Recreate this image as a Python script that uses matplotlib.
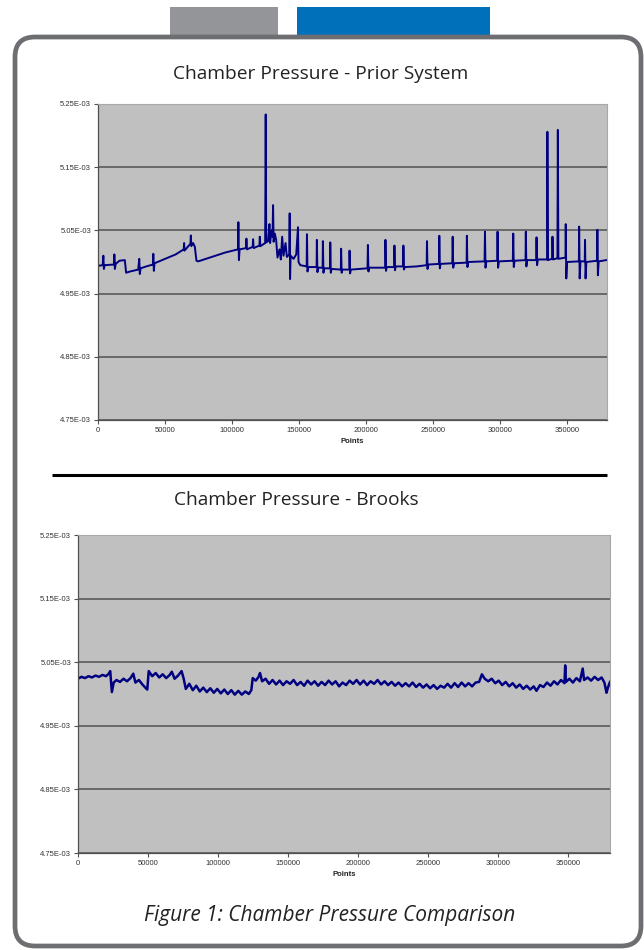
import matplotlib
matplotlib.use('Agg')
import matplotlib.pyplot as plt
import numpy as np
from matplotlib.patches import Rectangle, FancyBboxPatch
from matplotlib.ticker import FuncFormatter

# 数据 (压力单位: 1E-03)
prior_x = [0, 3500, 4000, 4400, 5000, 12000, 12200, 12600, 13200, 16000, 20000, 21000, 24000,
           30000, 30800, 31200, 31800, 36000, 41000, 41300, 41700, 42200, 50000, 58000, 64000,
           64300, 64600, 69000, 69300, 69700, 71000, 72300, 73500, 74800, 85000, 95000, 104500,
           104800, 105200, 105700, 110500, 110800, 111200, 115500, 115800, 116200, 120500, 120800,
           121200, 124800, 125200, 125600, 127000, 128000, 128500, 129500, 130300, 130700, 131100,
           132000, 133000, 134000, 135500, 136500, 137500, 138500, 140000, 141000, 142800, 143100,
           143400, 143800, 146000, 148000, 149300, 149700, 151000, 155800, 156000, 156400, 157000,
           163200, 163400, 163800, 164400, 167700, 167900, 168300, 168900, 173200, 173400, 173800,
           174400, 181300, 181500, 181900, 182500, 187600, 187800, 188200, 188800, 201200, 201500,
           201900, 202500, 214400, 214600, 215000, 215600, 221100, 221300, 221700, 222300, 227800,
           228000, 228400, 229000, 238000, 245400, 245600, 246000, 246600, 254600, 254800, 255200,
           255800, 264500, 264800, 265200, 265800, 275200, 275400, 275800, 276400, 288600, 288900,
           289300, 289900, 298000, 298300, 298700, 299300, 309700, 310000, 310400, 311000, 319200,
           319400, 319800, 320400, 327100, 327400, 327800, 328400, 335300, 335500, 335900, 339000,
           339300, 339700, 343000, 343300, 343700, 349000, 349200, 349600, 350200, 359000, 359200,
           359600, 360200, 363400, 363600, 364000, 364600, 372600, 372800, 373200, 373800, 379500]
prior_p = [4.994, 4.995, 5.010, 4.989, 4.995, 4.996, 5.012, 4.989, 4.997, 5.002, 5.003, 4.983, 4.985,
           4.988, 5.005, 4.981, 4.990, 4.993, 4.996, 5.013, 4.986, 4.998, 5.005, 5.012, 5.020,
           5.030, 5.018, 5.029, 5.042, 5.025, 5.030, 5.024, 5.002, 5.001, 5.008, 5.015, 5.020,
           5.063, 5.003, 5.020, 5.022, 5.037, 5.020, 5.024, 5.036, 5.022, 5.026, 5.040,
           5.025, 5.030, 5.2335, 5.031, 5.033, 5.060, 5.030, 5.050, 5.040, 5.090, 5.032,
           5.045, 5.035, 5.007, 5.020, 5.004, 5.040, 5.010, 5.030, 5.008, 5.012, 5.077,
           4.973, 5.010, 5.005, 5.012, 5.055, 5.000, 4.995, 4.993, 5.044, 4.985, 4.992,
           4.992, 5.035, 4.984, 4.991, 4.991, 5.033, 4.983, 4.990, 4.990, 5.031, 4.983,
           4.989, 4.988, 5.021, 4.983, 4.988, 4.988, 5.018, 4.982, 4.988, 4.990, 5.027,
           4.985, 4.991, 4.991, 5.035, 4.986, 4.992, 4.992, 5.026, 4.987, 4.993, 4.993,
           5.026, 4.988, 4.992, 4.993, 4.995, 5.033, 4.989, 4.996, 4.997, 5.0415, 4.990,
           4.997, 4.998, 5.040, 4.991, 4.998, 4.999, 5.0415, 4.992, 5.000, 5.001, 5.048,
           4.991, 5.001, 5.002, 5.048, 4.991, 5.001, 5.002, 5.045, 4.992, 5.002, 5.003,
           5.048, 4.993, 5.003, 5.003, 5.039, 4.995, 5.004, 5.004, 5.206, 5.003, 5.005,
           5.040, 5.004, 5.006, 5.209, 5.005, 5.007, 5.060, 4.974, 5.000, 5.001, 5.056,
           4.974, 5.001, 5.001, 5.035, 4.974, 5.000, 5.002, 5.051, 4.979, 5.001, 5.003]

brooks_x = [0, 2500, 5000, 7500, 10000, 12500, 15000, 17500, 20000, 22000, 23000, 24200, 25500,
            27500, 30000, 32500, 35000, 37500, 39500, 41000, 43500, 46000, 48500, 49500, 50500,
            53000, 55500, 58000, 60500, 63000, 65500, 67000, 69000, 71500, 74000, 75500, 77000,
            79500, 82000, 84500, 87000, 89500, 92000, 94500, 97000, 99500, 102000, 104500, 107000,
            109500, 112000, 114500, 117000, 119500, 122000, 123800, 124800, 127000, 129000, 130000,
            131500, 134000, 136500, 139000, 141500, 144000, 146500, 149000, 151500, 154000, 156500,
            159000, 161500, 164000, 166500, 169000, 171500, 174000, 176500, 179000, 181500, 184000,
            186500, 189000, 191500, 194000, 196500, 199000, 201500, 204000, 206500, 209000, 211500,
            214000, 216500, 219000, 221500, 224000, 226500, 229000, 231500, 234000, 236500, 239000,
            241500, 244000, 246500, 249000, 251500, 254000, 256500, 259000, 261500, 264000, 266500,
            269000, 271500, 274000, 276500, 279000, 281500, 284000, 286500, 288500, 290500, 293000,
            295500, 298000, 300500, 303000, 305500, 308000, 310500, 313000, 315500, 318000, 320500,
            323000, 325500, 327500, 330000, 332500, 335000, 337500, 340000, 342500, 345000, 347500,
            348000, 348500, 351000, 353500, 356000, 358500, 360500, 361500, 364000, 366500, 369000,
            371500, 374000, 376000, 377500, 378500, 380000]
brooks_p = [5.024, 5.027, 5.025, 5.028, 5.026, 5.029, 5.027, 5.030, 5.028, 5.032, 5.036, 5.003, 5.018,
            5.022, 5.019, 5.024, 5.020, 5.025, 5.032, 5.018, 5.022, 5.015, 5.009, 5.007, 5.036,
            5.028, 5.033, 5.026, 5.031, 5.025, 5.030, 5.035, 5.024, 5.029, 5.036, 5.024, 5.008,
            5.016, 5.006, 5.013, 5.004, 5.010, 5.003, 5.009, 5.002, 5.008, 5.001, 5.007, 5.000,
            5.006, 4.999, 5.005, 4.999, 5.004, 5.000, 5.006, 5.025, 5.021, 5.027, 5.033,
            5.020, 5.024, 5.016, 5.022, 5.015, 5.021, 5.014, 5.020, 5.016, 5.022, 5.014,
            5.019, 5.013, 5.021, 5.015, 5.020, 5.013, 5.019, 5.014, 5.021, 5.015, 5.020,
            5.012, 5.018, 5.014, 5.021, 5.016, 5.022, 5.015, 5.021, 5.014, 5.020, 5.016,
            5.022, 5.015, 5.020, 5.014, 5.019, 5.013, 5.018, 5.012, 5.017, 5.012, 5.018,
            5.011, 5.016, 5.010, 5.015, 5.009, 5.014, 5.008, 5.013, 5.010, 5.016, 5.010,
            5.017, 5.011, 5.018, 5.012, 5.017, 5.012, 5.018, 5.019, 5.031, 5.024, 5.020,
            5.024, 5.017, 5.021, 5.014, 5.019, 5.012, 5.017, 5.010, 5.015, 5.008, 5.013,
            5.007, 5.012, 5.005, 5.014, 5.011, 5.018, 5.013, 5.020, 5.015, 5.022, 5.017,
            5.045, 5.019, 5.024, 5.018, 5.025, 5.020, 5.040, 5.022, 5.026, 5.021, 5.027,
            5.022, 5.026, 5.018, 5.002, 5.010, 5.019]

y_ticks = [4.75, 4.85, 4.95, 5.05, 5.15, 5.25]
x_ticks = [0, 50000, 100000, 150000, 200000, 250000, 300000, 350000]

W, H = 644, 950
fig = plt.figure(figsize=(W / 100, H / 100), dpi=100)

# 背景装饰层 (像素坐标)
bg = fig.add_axes([0, 0, 1, 1])
bg.set_xlim(0, W)
bg.set_ylim(H, 0)
bg.axis('off')
bg.add_patch(Rectangle((170, 7), 108, 32, color='#939598', lw=0))
bg.add_patch(Rectangle((297, 7), 193, 32, color='#0070ba', lw=0))
bg.add_patch(FancyBboxPatch((15, 37), 626, 909, boxstyle='round,pad=0,rounding_size=20',
                            fc='white', ec='#6d6e71', lw=3.4))
bg.plot([52, 607], [475, 475], color='black', lw=2.2, solid_capstyle='butt')

title_font = ['Open Sans', 'DejaVu Sans']
bg.text(321, 74, 'Chamber Pressure - Prior System', family=title_font, fontsize=13.8,
        color='#222222', ha='center', va='center')
bg.text(296, 500, 'Chamber Pressure - Brooks', family=title_font, fontsize=13.8,
        color='#222222', ha='center', va='center')
bg.text(330, 915, 'Figure 1: Chamber Pressure Comparison', family=title_font, fontsize=15,
        style='italic', color='#222222', ha='center', va='center')


def make_chart(rect, xs, ps, lw):
    ax = fig.add_axes(rect)
    ax.set_facecolor('#c0c0c0')
    ax.plot(xs, np.array(ps) * 1e-3, color='#000080', lw=lw)
    ax.set_xlim(0, 380000)
    ax.set_ylim(4.75e-3, 5.25e-3)
    ax.set_yticks(np.array(y_ticks) * 1e-3)
    ax.set_xticks(x_ticks)
    ax.yaxis.set_major_formatter(FuncFormatter(lambda v, p: f'{v:.2E}'))
    ax.grid(axis='y', color='#505050', lw=1.1)
    ax.set_axisbelow(True)
    for s in ['top', 'right']:
        ax.spines[s].set_color('#a8a8a8')
        ax.spines[s].set_linewidth(0.8)
    for s in ['left', 'bottom']:
        ax.spines[s].set_color('#505050')
        ax.spines[s].set_linewidth(0.9)
    ax.tick_params(direction='out', length=3, width=0.8, color='#505050',
                   labelsize=5.5, labelcolor='#333333', pad=2)
    for lab in ax.get_xticklabels() + ax.get_yticklabels():
        lab.set_family(['Liberation Sans', 'DejaVu Sans'])
    ax.set_xlabel('Points', fontsize=5.5, fontweight='bold', color='#222222',
                  family=['Liberation Sans', 'DejaVu Sans'], labelpad=3)
    return ax


make_chart([98 / W, 1 - 420 / H, 509 / W, 316 / H], prior_x, prior_p, 1.4)
make_chart([78 / W, 1 - 853 / H, 532 / W, 318 / H], brooks_x, brooks_p, 1.8)

plt.savefig('out.png', dpi=100)
